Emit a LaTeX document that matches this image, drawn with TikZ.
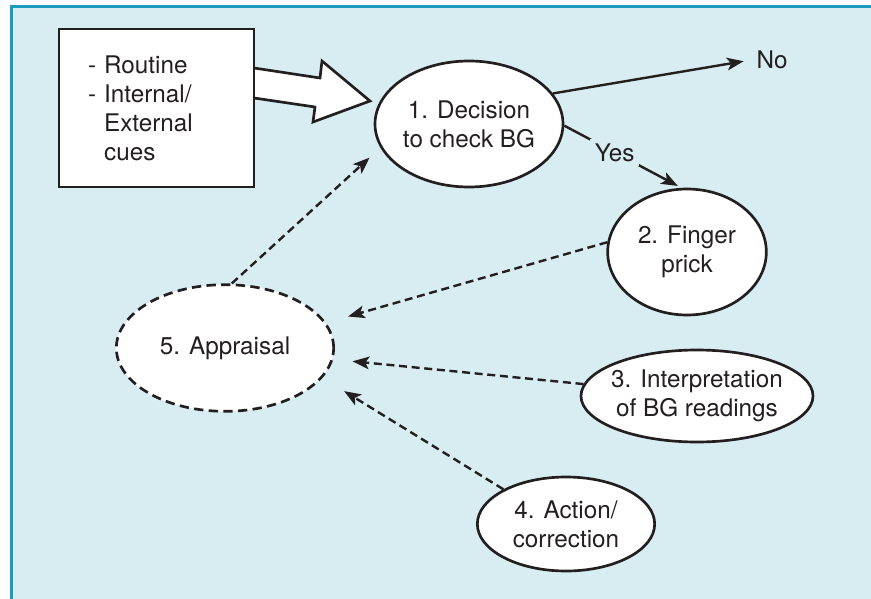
\documentclass[tikz,border=0pt]{standalone}
\usepackage{fontspec}
\setmainfont{TeX Gyre Heros}
\usetikzlibrary{arrows.meta,shapes.geometric}
\definecolor{panel}{RGB}{216,237,242}
\definecolor{frame}{RGB}{27,155,192}
\definecolor{ink}{RGB}{35,31,32}

\begin{document}
\begin{tikzpicture}[->,>={Stealth[length=12.5pt,width=9.5pt,inset=3pt]},x=0.75pt,y=-0.75pt,line width=1.8pt,color=ink,font=\fontsize{18.2}{21.75}\selectfont,step node/.style={ellipse,draw,fill=white,line width=2pt,align=center,inner xsep=-8pt,inner ysep=0pt},loop edge/.style={dash pattern=on 6pt off 3.5pt}]
            \useasboundingbox (0,0) rectangle (871,599);
            \draw[-,draw=frame,fill=panel,line width=2.25pt] (11.5,6.5) rectangle (900,630);

            % cue box and its fat arrow
            \draw[-,fill=white,line width=2pt] (254,68) -- (320,78) -- (322,61) -- (370,101) -- (313,122) -- (315,107) -- (254,98);
            \node[rectangle, draw, fill=white, line width=2.2pt, align=left, text width=102.75pt, inner xsep=21.75pt, minimum height=118.5pt] (cues) at (156.5,108) {- Routine\\- Internal/\\\phantom{- }External\\\phantom{- }cues};

            \node[step node, minimum width=141pt, minimum height=94.5pt] (dec) at (469,124) {1. Decision\\to check BG};
            \node[step node, minimum width=119pt, minimum height=94.5pt] (prick) at (687,252) {2. Finger\\prick};
            \node[step node, minimum width=174pt, minimum height=69pt] (interp) at (697,396) {3. Interpretation\\of BG readings};
            \node[step node, minimum width=133pt, minimum height=70.5pt] (act) at (566,524) {4. Action/\\correction};
            \node[step node, dash pattern=on 7pt off 4pt, minimum width=163pt, minimum height=95pt] (appr) at (225,348) {5. Appraisal};
            \node[] (no) at (772,60) {No};

            \path
                (dec.20) edge[shorten >=5.5pt] (no.west)
                (dec.-1) edge[shorten >=3pt] node[fill=panel, pos=0.43]{Yes} (prick.95)

                (appr.84) edge[loop edge, shorten >=11pt] (dec.195)
                (prick.173.5) edge[loop edge, shorten >=17pt] (appr.14.6)
                (interp.174) edge[loop edge, shorten >=14.5pt] (appr.354.6)
                (act.151.6) edge[loop edge, shorten >=19pt] (appr.343.3)
            ;
        \end{tikzpicture}
\end{document}
